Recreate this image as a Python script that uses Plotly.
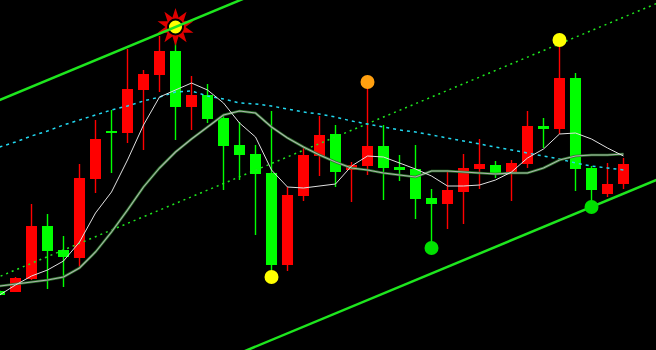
import plotly.graph_objects as go

# ---- data (bar index, prices in arbitrary units) ----
bars = list(range(-1, 39))
opens = [59, 58, 71, 124, 100, 92, 171, 219, 217, 260, 275, 299, 243, 255, 232, 205, 196, 177, 85, 154,
         194, 216, 180, 184, 204, 183, 181, 152, 146, 158, 181, 185, 177, 186, 224, 221, 272, 182, 156, 166]
highs = [60, 73, 146, 136, 114, 186, 230, 240, 301, 280, 314, 323, 274, 266, 235, 228, 205, 239, 163, 202,
         234, 225, 188, 267, 225, 195, 205, 161, 179, 196, 211, 189, 190, 239, 232, 308, 277, 184, 187, 192]
lows = [54, 58, 70, 61, 63, 83, 157, 177, 207, 200, 258, 210, 220, 227, 160, 170, 115, 80, 79, 149,
        174, 163, 148, 175, 150, 169, 131, 105, 121, 126, 161, 172, 149, 182, 202, 216, 159, 146, 153, 161]
closes = [55, 72, 124, 99, 93, 172, 211, 217, 261, 276, 299, 243, 255, 231, 204, 195, 176, 85, 155, 195,
          215, 178, 185, 204, 182, 180, 151, 146, 160, 182, 186, 177, 187, 224, 221, 272, 181, 160, 166, 186]

fast_ma = [55, 65, 74, 80, 89, 108, 137, 158, 190, 225, 253, 260, 267, 260, 247, 227, 213, 180, 163, 162,
           164, 166, 184, 194, 193, 187, 181, 174, 164, 164, 165, 170, 178, 192, 201, 216, 217, 211, 202, 194]
slow_ma = [64, 66, 68, 70, 73, 82, 98, 118, 140, 163, 182, 198, 211, 223, 235, 239, 237, 223, 212, 203,
           195, 188, 182, 180, 177, 175, 173, 179, 179, 178, 177, 176, 177, 177, 182, 190, 194, 195, 195, 196]
long_ma = [203, 208, 214, 219, 225, 230, 235, 240, 244, 249, 253, 258, 259, 254, 251, 247, 246, 244, 241, 238,
           236, 233, 229, 226, 223, 220, 218, 215, 212, 209, 206, 203, 200, 197, 194, 191, 187, 184, 182, 180]

# channel parameters
channel_slope = 6.65          # price per bar
upper_anchor = (10, 323)
lower_anchor = (36, 143)

# signal markers
sun_bar, sun_price = 10, 323
yellow_bars, yellow_prices = [16, 34], [73, 310]
orange_bars, orange_prices = [22], [268]
green_bars, green_prices = [26, 36], [102, 143]

X_MIN, X_MAX = -0.969, 40.031
RED, GREEN = "#ff0000", "#00ff00"

fig = go.Figure()

# wicks
for col, up in ((RED, True), (GREEN, False)):
    xs, ys = [], []
    for b, o, h, l, c in zip(bars, opens, highs, lows, closes):
        if (c > o) == up:
            xs += [b, b, None]
            ys += [l, h, None]
    fig.add_trace(go.Scatter(x=xs, y=ys, mode="lines", line=dict(color=col, width=1.4),
                             hoverinfo="skip"))

# bodies
for col, up in ((RED, True), (GREEN, False)):
    bx, bb, bh = [], [], []
    for b, o, c in zip(bars, opens, closes):
        if (c > o) == up:
            bx.append(b)
            bb.append(min(o, c))
            bh.append(max(abs(c - o), 1.2))
    fig.add_trace(go.Bar(x=bx, y=bh, base=bb, width=0.69, marker=dict(color=col, line=dict(width=0)),
                         hoverinfo="skip"))

# channel
ends = [X_MIN - 1, X_MAX + 1]
upper = [upper_anchor[1] + channel_slope * (x - upper_anchor[0]) for x in ends]
lower = [lower_anchor[1] + channel_slope * (x - lower_anchor[0]) for x in ends]
mid = [(u + l) / 2 for u, l in zip(upper, lower)]

fig.add_trace(go.Scatter(x=ends, y=mid, mode="lines",
                         line=dict(color="#1ee61e", width=1.5, dash="2px,4px"), hoverinfo="skip"))
fig.add_trace(go.Scatter(x=bars, y=long_ma, mode="lines",
                         line=dict(color="#22d8f0", width=1.5, dash="3px,4px"), hoverinfo="skip"))
fig.add_trace(go.Scatter(x=bars, y=slow_ma, mode="lines",
                         line=dict(color="#2a7a2a", width=2.6), hoverinfo="skip"))
fig.add_trace(go.Scatter(x=bars, y=slow_ma, mode="lines",
                         line=dict(color="#b0b0b0", width=1.1), hoverinfo="skip"))
fig.add_trace(go.Scatter(x=bars, y=fast_ma, mode="lines",
                         line=dict(color="#e0e0e0", width=1), hoverinfo="skip"))

# sun marker
fig.add_trace(go.Scatter(x=[sun_bar, sun_bar], y=[sun_price, sun_price], mode="markers",
                         marker=dict(symbol="star", size=27, color="#e00000", angle=[0, 36],
                                     line=dict(width=0)), hoverinfo="skip"))
fig.add_trace(go.Scatter(x=[sun_bar], y=[sun_price], mode="markers",
                         marker=dict(symbol="circle", size=15, color="#ffff00",
                                     line=dict(color="#000000", width=2)), hoverinfo="skip"))

# channel boundaries
fig.add_trace(go.Scatter(x=ends, y=upper, mode="lines", line=dict(color="#1ee61e", width=2.5),
                         hoverinfo="skip"))
fig.add_trace(go.Scatter(x=ends, y=lower, mode="lines", line=dict(color="#1ee61e", width=2.5),
                         hoverinfo="skip"))

# dots
fig.add_trace(go.Scatter(x=yellow_bars, y=yellow_prices, mode="markers",
                         marker=dict(size=14, color="#ffff00", line=dict(width=0)), hoverinfo="skip"))
fig.add_trace(go.Scatter(x=orange_bars, y=orange_prices, mode="markers",
                         marker=dict(size=14, color="#ffa010", line=dict(width=0)), hoverinfo="skip"))
fig.add_trace(go.Scatter(x=green_bars, y=green_prices, mode="markers",
                         marker=dict(size=14, color="#00e000", line=dict(width=0)), hoverinfo="skip"))

fig.update_layout(
    width=656, height=350, margin=dict(l=0, r=0, t=0, b=0),
    paper_bgcolor="#000000", plot_bgcolor="#000000",
    showlegend=False, barmode="overlay", hovermode=False,
    xaxis=dict(range=[X_MIN, X_MAX], visible=False, fixedrange=True),
    yaxis=dict(range=[0, 350], visible=False, fixedrange=True),
)

fig.write_html("out.html", config={"displayModeBar": False})
